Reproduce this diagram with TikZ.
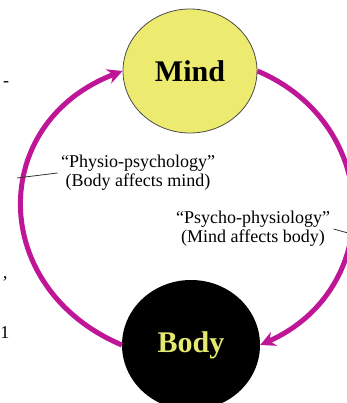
\documentclass[tikz,border=0pt]{standalone}
\usepackage{fontspec}
\setmainfont{Liberation Serif}
\usetikzlibrary{arrows.meta, shapes.geometric}

\definecolor{loopmagenta}{RGB}{190,22,150}
\definecolor{mindyellow}{RGB}{236,235,112}
\definecolor{bodytext}{RGB}{228,232,110}

\begin{document}
\begin{tikzpicture}[x=1pt, y=1pt,
    mindbody/.style={ellipse, inner sep=0pt, font=\fontsize{30}{30}\selectfont\bfseries},
    feedback/.style={line width=5pt, loopmagenta, -{Stealth[length=15pt, width=15pt]}},
    caption/.style={align=center, font=\fontsize{18}{19}\selectfont},
    leader/.style={line width=0.8pt, black!80}]
    \useasboundingbox (0,0) rectangle (346,403);

    % Mind and body
    \node[mindbody, draw=black!70, line width=0.8pt, fill=mindyellow,
          minimum width=134pt, minimum height=124pt] (mind) at (190,332) {Mind};
    \node[mindbody, fill=black, text=bodytext,
          minimum width=138pt, minimum height=130pt] (body) at (191,58) {Body};

    % The two loops
    \draw[feedback] (body.west) to[out=157, in=201, looseness=1.35] (mind.west);
    \draw[feedback] (mind.east) to[out=-23, in=24, looseness=1.27] (body.east);

    % Labels with leaders
    \node[caption] (physio) at (138,230) {“Physio-psychology”\\(Body affects mind)};
    \node[caption] (psycho) at (253,174) {“Psycho-physiology”\\(Mind affects body)};
    \coordinate (physioarc) at (17,225);
    \coordinate (psychoarc) at (348,170);
    \draw[leader] (physioarc) -- (physio.west);
    \draw[leader] (psycho.east) -- (psychoarc);

    % Bits of the text beside the figure
    \node[caption] (dash) at (6,319) {-};
    \node[caption] (apos) at (5,120) {’};
    \node[caption] (one) at (5,70) {1};
\end{tikzpicture}
\end{document}
